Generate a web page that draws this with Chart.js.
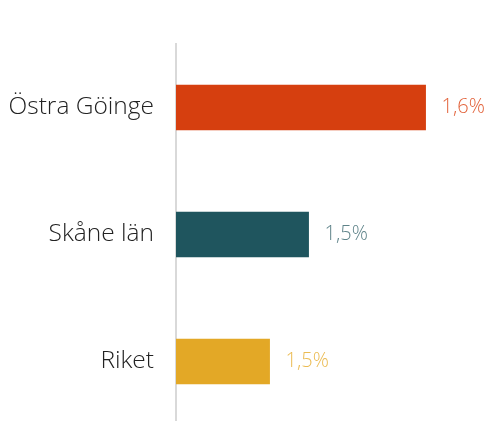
<!DOCTYPE html>
<html><head><meta charset="utf-8">
<script src="https://cdn.jsdelivr.net/npm/chart.js@4"></script>
<style>html,body{margin:0;padding:0;background:#fff;overflow:hidden}canvas{display:block}</style>
</head><body>
<canvas id="c" width="488" height="425"></canvas>
<script>
const categories = ["Östra Göinge", "Skåne län", "Riket"];
const values = [1.592, 1.502, 1.472];
const valueLabels = ["1,6%", "1,5%", "1,5%"];
const barColors = ["#d63f0f", "#1f555e", "#e3a826"];
const labelColors = ["#e2623a", "#5e8389", "#ebbb52"];

const valueLabelPlugin = {
  id: 'valueLabels',
  afterDatasetsDraw(chart) {
    const ctx = chart.ctx;
    const meta = chart.getDatasetMeta(0);
    ctx.save();
    ctx.font = '300 20px "Open Sans"';
    ctx.textAlign = 'left';
    ctx.textBaseline = 'middle';
    meta.data.forEach((bar, i) => {
      ctx.fillStyle = labelColors[i];
      ctx.fillText(valueLabels[i], bar.x + 16, bar.y);
    });
    ctx.restore();
  }
};

new Chart(document.getElementById('c'), {
  type: 'bar',
  data: {
    labels: categories,
    datasets: [{ data: values, backgroundColor: barColors, barThickness: 45, categoryPercentage: 1 }]
  },
  options: {
    indexAxis: 'y',
    responsive: false,
    maintainAspectRatio: false,
    animation: false,
    layout: { padding: { top: 44, right: 0, bottom: 0, left: 0 } },
    plugins: { legend: { display: false }, tooltip: { enabled: false } },
    scales: {
      x: { display: false, min: 1.4, max: 1.64 },
      y: {
        afterFit(s) { s.width = 176; s.paddingTop = 0; s.paddingBottom = 0; },
        grid: { display: false, drawTicks: false },
        border: { display: true, color: '#d9d9d9', width: 2 },
        ticks: { color: '#222', padding: 22, font: { family: '"Open Sans"', size: 24.5, weight: 300 } }
      }
    }
  },
  plugins: [valueLabelPlugin]
});
</script>
</body></html>
